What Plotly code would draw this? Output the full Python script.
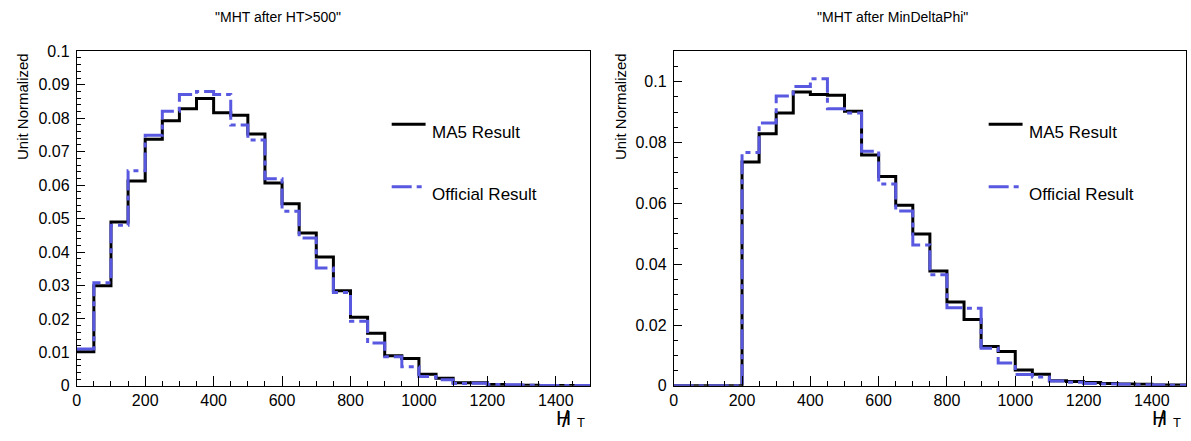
import plotly.graph_objects as go

# ---------------- data ----------------
bin_edges = list(range(0, 1550, 50))  # 30 bins of width 50 from 0 to 1500

ma5_ht500 = [0.0102, 0.0299, 0.0490, 0.0612, 0.0737, 0.0792, 0.0828, 0.0859, 0.0816, 0.0809,
             0.0753, 0.0606, 0.0544, 0.0457, 0.0385, 0.0284, 0.0205, 0.0157, 0.0090, 0.0082,
             0.0035, 0.0023, 0.0009, 0.0009, 0.0004, 0.0002, 0.0002, 0.0001, 0.0001, 0.0001]
off_ht500 = [0.0110, 0.0308, 0.0480, 0.0643, 0.0749, 0.0821, 0.0871, 0.0880, 0.0871, 0.0780,
             0.0735, 0.0619, 0.0522, 0.0442, 0.0352, 0.0279, 0.0193, 0.0128, 0.0087, 0.0057,
             0.0028, 0.0018, 0.0007, 0.0008, 0.0004, 0.0003, 0.0002, 0.0001, 0.0001, 0.0001]

ma5_mdp = [0.0, 0.0, 0.0, 0.0, 0.0736, 0.0829, 0.0897, 0.0966, 0.0958, 0.0955,
           0.0903, 0.0759, 0.0688, 0.0594, 0.0499, 0.0378, 0.0276, 0.0218, 0.0129, 0.0113,
           0.0052, 0.0038, 0.0017, 0.0014, 0.0011, 0.0008, 0.0006, 0.0005, 0.0003, 0.0003]
off_mdp = [0.0, 0.0, 0.0, 0.0, 0.0767, 0.0864, 0.0953, 0.0984, 0.1010, 0.0911,
           0.0897, 0.0771, 0.0664, 0.0575, 0.0463, 0.0365, 0.0257, 0.0255, 0.0124, 0.0075,
           0.0037, 0.0029, 0.0016, 0.0012, 0.0008, 0.0006, 0.0005, 0.0004, 0.0003, 0.0002]

x_tick_vals = [0, 200, 400, 600, 800, 1000, 1200, 1400]
titles = ['"MHT after HT>500"', '"MHT after MinDeltaPhi"']
series_names = ["MA5 Result", "Official Result"]
y_title = "Unit Normalized"

# ---------------- style ----------------
W, H = 1191, 441
FONT = "Liberation Sans, Arial, Helvetica, sans-serif"
BLACK = "#000000"
BLUE = "#5858e0"
DASH = "20px,5px,5px,5px"


def fx(p):
    return p / W


def fy(p):
    return 1 - p / H


fig = go.Figure()

panels = [
    (ma5_ht500, off_ht500, "x", "y"),
    (ma5_mdp, off_mdp, "x2", "y2"),
]
for ma5, off, xa, ya in panels:
    fig.add_trace(go.Scatter(x=bin_edges, y=ma5 + [ma5[-1]], mode="lines",
                             line=dict(shape="hv", color=BLACK, width=3),
                             xaxis=xa, yaxis=ya, showlegend=False, hoverinfo="skip"))
    fig.add_trace(go.Scatter(x=bin_edges, y=off + [off[-1]], mode="lines",
                             line=dict(shape="hv", color=BLUE, width=3, dash=DASH),
                             xaxis=xa, yaxis=ya, showlegend=False, hoverinfo="skip"))

xaxis_common = dict(range=[0, 1500], tickmode="array", tickvals=x_tick_vals,
                    ticks="inside", ticklen=10, tickwidth=1, tickcolor="black",
                    minor=dict(ticks="inside", dtick=50, ticklen=5, tickcolor="black", showgrid=False),
                    showline=True, linecolor="black", linewidth=1, mirror=True,
                    showgrid=False, zeroline=False,
                    tickfont=dict(family=FONT, size=16, color="black"))
yaxis_common = dict(ticks="inside", ticklen=8, tickwidth=1, tickcolor="black",
                    showline=True, linecolor="black", linewidth=1, mirror=True,
                    showgrid=False, zeroline=False, ticklabelstandoff=3,
                    tickfont=dict(family=FONT, size=16, color="black"))

ydom = [fy(393), fy(45)]
fig.update_layout(
    width=W, height=H,
    margin=dict(l=0, r=0, t=0, b=0),
    paper_bgcolor="white", plot_bgcolor="white",
    showlegend=False,
    xaxis=dict(domain=[fx(73), fx(588)], anchor="y", **xaxis_common),
    yaxis=dict(domain=ydom, anchor="x", range=[0, 0.1], dtick=0.01,
               minor=dict(ticks="inside", dtick=0.002, ticklen=4, tickcolor="black", showgrid=False),
               **yaxis_common),
    xaxis2=dict(domain=[fx(672), fx(1186)], anchor="y2", **xaxis_common),
    yaxis2=dict(domain=ydom, anchor="x2", range=[0, 0.11], dtick=0.02,
                minor=dict(ticks="inside", dtick=0.005, ticklen=4, tickcolor="black", showgrid=False),
                **yaxis_common),
)

annotations = []
shapes = []
# panel-specific placements
layout_info = [
    dict(title_x=275, ytitle_x=18, frame_right=588, leg_x0=389),
    dict(title_x=891, ytitle_x=618, frame_right=1186, leg_x0=988),
]
for i, info in enumerate(layout_info):
    annotations.append(dict(text=titles[i], x=fx(info["title_x"]), y=fy(9), xref="paper", yref="paper",
                            xanchor="center", yanchor="middle", showarrow=False,
                            font=dict(family=FONT, size=14, color="black")))
    annotations.append(dict(text=y_title, x=fx(info["ytitle_x"]), y=fy(102), xref="paper", yref="paper",
                            xanchor="center", yanchor="middle", showarrow=False, textangle=-90,
                            font=dict(family=FONT, size=15, color="black")))
    # x-axis title: slashed H with subscript T
    hx = info["frame_right"] - 35
    annotations.append(dict(text="H", x=fx(hx), y=fy(426), xref="paper", yref="paper",
                            xanchor="left", yanchor="middle", showarrow=False, borderpad=0,
                            font=dict(family=FONT, size=21, color="black")))
    annotations.append(dict(text="/", x=fx(hx + 6), y=fy(427), xref="paper", yref="paper",
                            xanchor="left", yanchor="middle", showarrow=False, borderpad=0,
                            font=dict(family=FONT, size=24, color="black")))
    annotations.append(dict(text="T", x=fx(hx + 21), y=fy(431), xref="paper", yref="paper",
                            xanchor="left", yanchor="middle", showarrow=False, borderpad=0,
                            font=dict(family=FONT, size=13, color="black")))
    # legend
    lx0 = info["leg_x0"]
    shapes.append(dict(type="line", xref="paper", yref="paper", x0=fx(lx0), x1=fx(lx0 + 34),
                       y0=fy(121), y1=fy(121), line=dict(color=BLACK, width=3)))
    shapes.append(dict(type="line", xref="paper", yref="paper", x0=fx(lx0), x1=fx(lx0 + 34),
                       y0=fy(186), y1=fy(186), line=dict(color=BLUE, width=3, dash=DASH)))
    annotations.append(dict(text=series_names[0], x=fx(lx0 + 38), y=fy(130), xref="paper", yref="paper",
                            xanchor="left", yanchor="middle", showarrow=False,
                            font=dict(family=FONT, size=17, color="black")))
    annotations.append(dict(text=series_names[1], x=fx(lx0 + 38), y=fy(194), xref="paper", yref="paper",
                            xanchor="left", yanchor="middle", showarrow=False,
                            font=dict(family=FONT, size=17, color="black")))

fig.update_layout(annotations=annotations, shapes=shapes)

fig.write_html("out.html")
